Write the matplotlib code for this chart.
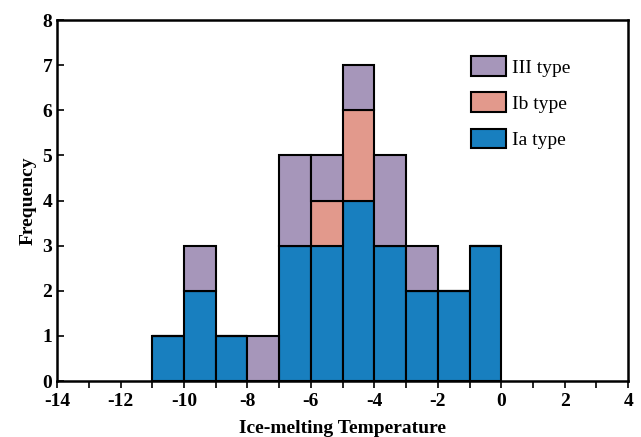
import numpy as np
import matplotlib.pyplot as plt
from matplotlib.ticker import MultipleLocator

plt.rcParams['font.family'] = ['Liberation Serif', 'DejaVu Serif']
plt.rcParams['axes.unicode_minus'] = False

# bin left edges (width 1) and counts per type
bin_left = [-11, -10, -9, -8, -7, -6, -5, -4, -3, -2, -1]
ia_counts = [1, 2, 1, 0, 3, 3, 4, 3, 2, 2, 3]
ib_counts = [0, 0, 0, 0, 0, 1, 2, 0, 0, 0, 0]
iii_counts = [0, 1, 0, 1, 2, 1, 1, 2, 1, 0, 0]

c_ia = '#187fbf'
c_ib = '#e2998c'
c_iii = '#a696ba'

fig = plt.figure(figsize=(6.41, 4.37), dpi=100)
ax = fig.add_axes([0.089, 0.128, 0.891, 0.826])

x = np.array(bin_left) + 0.5
ia = np.array(ia_counts)
ib = np.array(ib_counts)
iii = np.array(iii_counts)

kw = dict(width=1.0, edgecolor='black', linewidth=1.5)
ax.bar(x, ia, color=c_ia, label='Ia type', **kw)
ax.bar(x, ib, bottom=ia, color=c_ib, label='Ib type', **kw)
ax.bar(x, iii, bottom=ia + ib, color=c_iii, label='III type', **kw)

ax.set_xlim(-14, 4)
ax.set_ylim(0, 8)
ax.xaxis.set_major_locator(MultipleLocator(2))
ax.xaxis.set_minor_locator(MultipleLocator(1))
ax.yaxis.set_major_locator(MultipleLocator(1))
ax.tick_params(axis='x', which='both', direction='out', length=5, width=1.2)
ax.tick_params(axis='y', direction='in', length=5, width=1.2)
for lab in ax.get_xticklabels() + ax.get_yticklabels():
    lab.set_fontweight('bold')
    lab.set_fontsize(14)
for s in ax.spines.values():
    s.set_linewidth(1.8)

ax.set_xlabel('Ice-melting Temperature', fontsize=14, fontweight='bold', labelpad=7)
ax.set_ylabel('Frequency', fontsize=14, fontweight='bold')

h, l = ax.get_legend_handles_labels()
ax.legend(h[::-1], l[::-1], loc='upper left', bbox_to_anchor=(0.695, 0.948),
          frameon=False, fontsize=14, handlelength=1.8, handleheight=1.2,
          labelspacing=0.8, handletextpad=0.3)

fig.savefig('out.png')
